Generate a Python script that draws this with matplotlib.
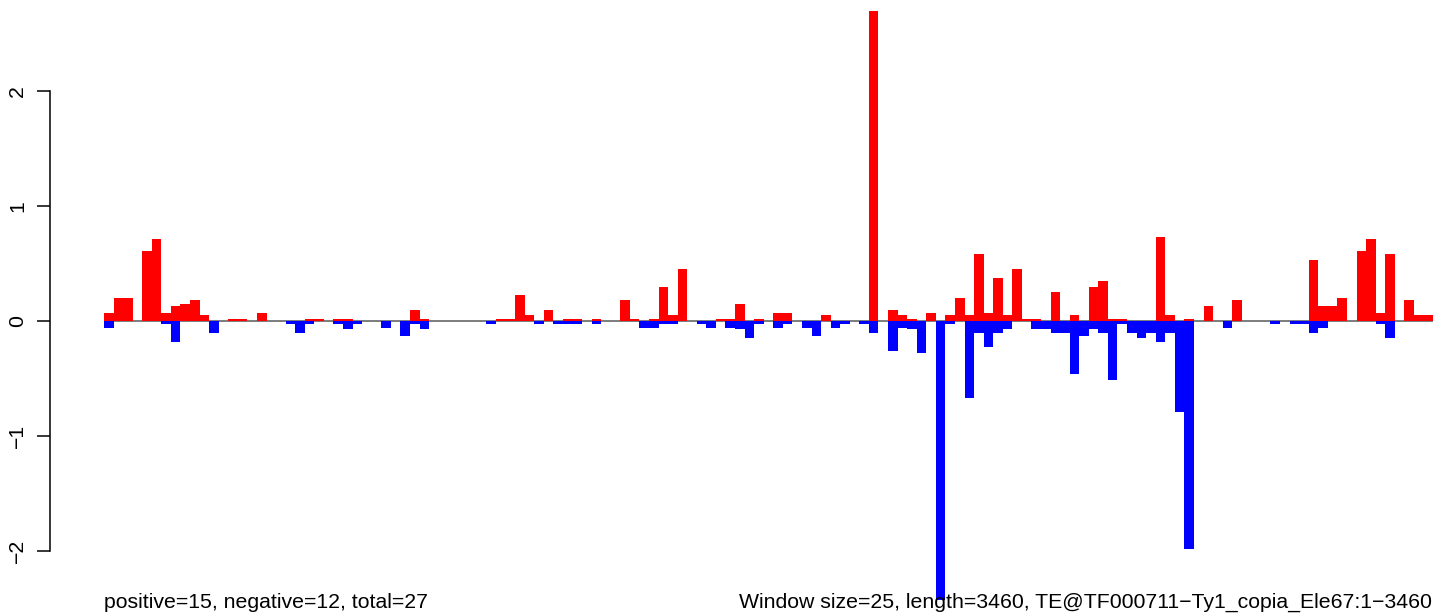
import matplotlib
matplotlib.use("Agg")
import matplotlib.pyplot as plt
import numpy as np

plt.rcParams['font.family'] = ['Liberation Sans', 'DejaVu Sans']

# one value per 25 bp window (139 windows), red = positive, blue = negative
pos = [0.07, 0.2, 0.2, 0, 0.61, 0.71, 0.07, 0.13, 0.15, 0.18,
       0.05, 0, 0, 0.02, 0.02, 0, 0.07, 0, 0, 0,
       0, 0.02, 0.02, 0, 0.02, 0.02, 0, 0, 0, 0,
       0, 0, 0.1, 0.02, 0, 0, 0, 0, 0, 0,
       0, 0.02, 0.02, 0.23, 0.05, 0, 0.1, 0, 0.02, 0.02,
       0, 0.02, 0, 0, 0.18, 0.02, 0, 0.02, 0.30, 0.05,
       0.45, 0, 0, 0, 0.02, 0.02, 0.15, 0, 0.02, 0,
       0.07, 0.07, 0, 0, 0, 0.05, 0, 0, 0, 0,
       2.70, 0, 0.1, 0.05, 0.02, 0, 0.07, 0, 0.05, 0.2,
       0.05, 0.58, 0.07, 0.37, 0.05, 0.45, 0.02, 0.02, 0, 0.25,
       0, 0.05, 0, 0.30, 0.35, 0.02, 0.02, 0, 0, 0,
       0.73, 0.05, 0, 0.02, 0, 0.13, 0, 0, 0.18, 0,
       0, 0, 0, 0, 0, 0, 0.53, 0.13, 0.13, 0.2,
       0, 0.61, 0.71, 0.07, 0.58, 0, 0.18, 0.05, 0.05]

neg = [0.06, 0, 0, 0, 0, 0, 0.03, 0.18, 0, 0,
       0, 0.1, 0, 0, 0, 0, 0, 0, 0, 0.03,
       0.1, 0.03, 0, 0, 0.03, 0.07, 0.03, 0, 0, 0.06,
       0, 0.13, 0.03, 0.07, 0, 0, 0, 0, 0, 0,
       0.03, 0, 0, 0, 0, 0.03, 0, 0.03, 0.03, 0.03,
       0, 0.03, 0, 0, 0, 0, 0.06, 0.06, 0.03, 0.03,
       0, 0, 0.03, 0.06, 0, 0.06, 0.07, 0.15, 0.03, 0,
       0.06, 0.03, 0, 0.06, 0.13, 0, 0.06, 0.03, 0, 0.03,
       0.1, 0, 0.26, 0.06, 0.07, 0.28, 0, 2.5, 0.03, 0,
       0.67, 0.1, 0.23, 0.1, 0.07, 0, 0, 0.07, 0.07, 0.1,
       0.1, 0.46, 0.13, 0.07, 0.1, 0.51, 0.03, 0.1, 0.15, 0.1,
       0.18, 0.1, 0.79, 1.98, 0, 0, 0, 0.06, 0, 0,
       0, 0, 0.03, 0, 0.03, 0.03, 0.1, 0.06, 0, 0,
       0, 0, 0, 0.03, 0.15, 0, 0, 0, 0]

yticks = [-2, -1, 0, 1, 2]
left_note = "positive=15, negative=12, total=27"
right_note = "Window size=25, length=3460, TE@TF000711\u2212Ty1_copia_Ele67:1\u22123460"

W, H = 1444, 615
fs = 15.3
fig = plt.figure(figsize=(W / 100, H / 100), dpi=100)
ax = fig.add_axes([104 / W, 15 / H, (1433 - 104) / W, (610 - 15) / H])

x = np.arange(len(pos))
ax.bar(x, pos, width=1.0, color='#FF0000', linewidth=0)
ax.bar(x, -np.array(neg), width=1.0, color='#0000FF', linewidth=0)
ax.axhline(0, color='#666666', lw=1.2, zorder=0)

ax.set_xlim(-0.5, len(pos) - 0.5)
ax.set_ylim(-2.426, 2.748)

for s in ['top', 'right', 'bottom']:
    ax.spines[s].set_visible(False)
ax.spines['left'].set_position(('outward', 54 * 0.72))
ax.spines['left'].set_bounds(-2, 2)
ax.spines['left'].set_linewidth(1.1)
ax.set_xticks([])
ax.set_yticks(yticks)
ax.set_yticklabels([str(t).replace('-', '\u2212') for t in yticks])
ax.tick_params(axis='y', length=9.4, width=1.1, pad=7, labelsize=fs,
               labelrotation=90)
for lab in ax.get_yticklabels():
    lab.set_va('center')

fig.text(104 / W, (H - 602) / H, left_note, fontsize=fs, ha='left', va='center')
fig.text(1432 / W, (H - 602) / H, right_note, fontsize=fs, ha='right', va='center')

fig.savefig("out.png", dpi=100)
